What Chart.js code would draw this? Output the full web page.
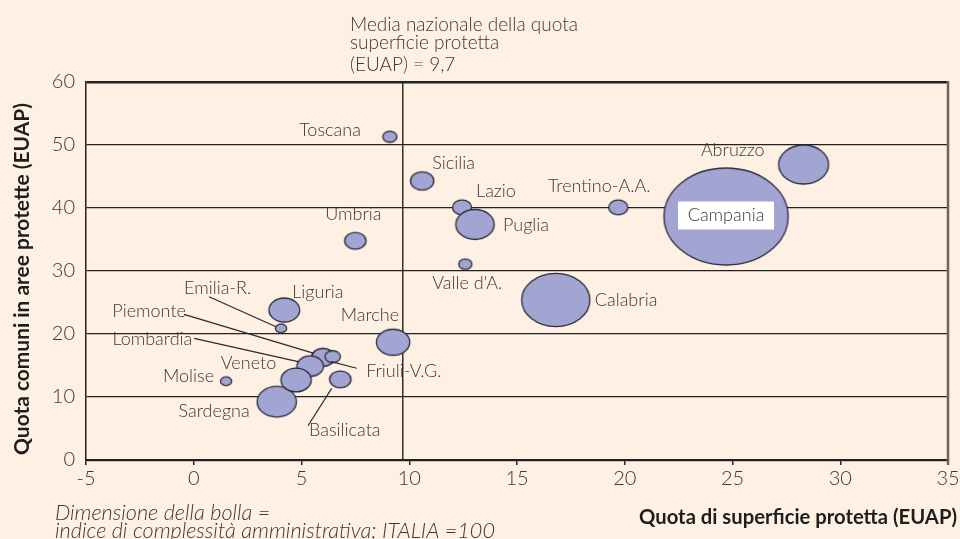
<!DOCTYPE html>
<html><head><meta charset="utf-8">
<script src="https://cdn.jsdelivr.net/npm/chart.js@4.4.0/dist/chart.umd.min.js"></script>
<style>
html,body{margin:0;padding:0;background:#fef1e3;}
#wrap{width:960px;height:539px;position:relative;overflow:hidden}
</style>
</head><body><div id="wrap"><canvas id="c" width="960" height="539"></canvas></div>
<script>
// ---- DATA ----
const regions = ["Toscana","Sicilia","Lazio","Puglia","Valle d'A.","Trentino-A.A.","Abruzzo","Campania","Calabria","Umbria","Liguria","Emilia-R.","Marche","Piemonte","Friuli-V.G.","Lombardia","Sardegna","Veneto","Basilicata","Molise"];
const quotaSuperficie = [9.1,10.6,12.45,13.05,12.6,19.7,28.3,24.7,16.8,7.5,4.2,4.05,9.25,6.0,6.45,5.4,3.85,4.75,6.8,1.5];
const quotaComuni     = [51.3,44.3,40.1,37.4,31.1,40.1,46.9,38.65,25.4,34.8,23.8,20.9,18.7,16.3,16.4,14.9,9.25,12.7,12.8,12.5];
const indiceComplessita = [25,69,46,186,22,46,314,1944,587,58,119,16,140,67,30,89,195,116,58,16];
const mediaNazionale = 9.7;
const xTickValues = [-5,0,5,10,15,20,25,30,35];
const yTickValues = [0,10,20,30,40,50,60];

// ---- STYLE / LAYOUT ----
const FONT = "Lato, 'Open Sans', sans-serif";
const TXT = '#3a3836';
const BG = '#fef1e3';
const FILL = '#a2a4d1';
const EDGE = '#2b2b3b';
const ASPECT = 1.28;
const rOf = v => 11*Math.sqrt(v/100);

// label placement relative to bubble centre: [dx, dy, align, leaderFrom, leaderTo]
const labelLayout = {
  "Toscana":[-29,-7,'right'],
  "Sicilia":[10,-18,'left'],
  "Lazio":[14,-16,'left'],
  "Puglia":[28,1,'left'],
  "Valle d'A.":[2,19,'center'],
  "Trentino-A.A.":[-19,-21,'center'],
  "Abruzzo":[-39,-14,'right'],
  "Campania":[0,-1,'center','box'],
  "Calabria":[39,0,'left'],
  "Umbria":[-2,-27,'center'],
  "Liguria":[8,-18,'left'],
  "Marche":[6,-27,'right'],
  "Emilia-R.":[-97,-40,'left',[-72,-31.6],[-5,-1.6]],
  "Piemonte":[-210.7,-46.3,'left',[-139,-43],[-9,-4]],
  "Lombardia":[-197.7,-26.7,'left',[-116,-27.7],[-11,-4.3]],
  "Veneto":[-75.3,-17,'left'],
  "Molise":[-12,-4.6,'right'],
  "Friuli-V.G.":[33.4,15,'left',[-1.6,5],[24,11.6]],
  "Sardegna":[-27,9,'right'],
  "Basilicata":[-31.3,50.7,'left',[-32.3,46.4],[-8.6,9]]
};

function bubbleImage(r){
  const rx = r*ASPECT, ry = r;
  const c = document.createElement('canvas');
  c.width = Math.ceil(rx*2+4); c.height = Math.ceil(ry*2+4);
  const g = c.getContext('2d');
  g.beginPath(); g.ellipse(c.width/2, c.height/2, rx, ry, 0, 0, Math.PI*2);
  g.fillStyle = FILL; g.fill();
  g.lineWidth = 1.3; g.strokeStyle = EDGE; g.stroke();
  return c;
}

function fitText(ctx, text, style, target){
  ctx.font = `${style} 20px ${FONT}`;
  const w = ctx.measureText(text).width;
  ctx.font = `${style} ${(20*target/w).toFixed(2)}px ${FONT}`;
}

const points = regions.map((n,i)=>({x:quotaSuperficie[i], y:quotaComuni[i], r:rOf(indiceComplessita[i])}));
const images = points.map(p=>bubbleImage(p.r));

const decor = {
  id:'decor',
  beforeDraw(chart){
    const {ctx,width,height} = chart;
    ctx.save(); ctx.fillStyle = BG; ctx.fillRect(0,0,width,height); ctx.restore();
  },
  beforeDatasetsDraw(chart){
    const {ctx, chartArea:a, scales:{x}} = chart;
    ctx.save();
    const px = x.getPixelForValue(mediaNazionale);
    ctx.strokeStyle = '#222'; ctx.lineWidth = 1.4;
    ctx.beginPath(); ctx.moveTo(px, a.top); ctx.lineTo(px, a.bottom); ctx.stroke();
    ctx.strokeStyle = '#6b6560'; ctx.lineWidth = 2.5;
    ctx.beginPath(); ctx.moveTo(a.right, a.top-1); ctx.lineTo(a.right, a.bottom+5); ctx.stroke();
    ctx.restore();
  },
  afterDatasetsDraw(chart){
    const {ctx} = chart;
    const meta = chart.getDatasetMeta(0);
    ctx.save();
    ctx.fillStyle = TXT; ctx.strokeStyle = '#2a2a2a'; ctx.lineWidth = 1.2;
    ctx.font = `300 18px ${FONT}`;
    ctx.textBaseline = 'middle';
    regions.forEach((name,i)=>{
      const el = meta.data[i];
      const L = labelLayout[name];
      const tx = el.x + L[0], ty = el.y + L[1];
      if (Array.isArray(L[3])) {
        ctx.beginPath();
        ctx.moveTo(el.x+L[3][0], el.y+L[3][1]);
        ctx.lineTo(el.x+L[4][0], el.y+L[4][1]);
        ctx.stroke();
      }
      ctx.textAlign = L[2];
      if (L[3]==='box') {
        ctx.fillStyle = '#ffffff';
        ctx.fillRect(tx - 48, ty - 14, 96, 28);
        ctx.fillStyle = TXT;
      }
      ctx.fillText(name, tx, ty);
    });
    // annotation of national mean
    ctx.textAlign = 'left';
    ctx.font = `300 19px ${FONT}`;
    ctx.fillText('Media nazionale della quota', 350, 25);
    ctx.fillText('superficie protetta', 350, 43);
    ctx.fillText('(EUAP) = 9,7', 350, 65);
    // axis titles
    ctx.fillStyle = '#1e1e1e';
    ctx.textAlign = 'right';
    fitText(ctx, 'Quota di superficie protetta (EUAP)', '700', 318);
    ctx.fillText('Quota di superficie protetta (EUAP)', 957, 517);
    ctx.save();
    ctx.translate(22, 279); ctx.rotate(-Math.PI/2);
    ctx.textAlign = 'center';
    fitText(ctx, 'Quota comuni in aree protette (EUAP)', '700', 352);
    ctx.fillText('Quota comuni in aree protette (EUAP)', 0, 0);
    ctx.restore();
    // footnote
    ctx.fillStyle = TXT;
    ctx.textAlign = 'left';
    fitText(ctx, 'indice di complessità amministrativa; ITALIA =100', 'italic 300', 440);
    ctx.fillText('Dimensione della bolla =', 55, 513);
    ctx.fillText('indice di complessità amministrativa; ITALIA =100', 55, 531);
    ctx.restore();
  }
};

new Chart(document.getElementById('c'), {
  type:'bubble',
  data:{ datasets:[{
    label:'Regioni',
    data: points,
    pointStyle: c => images[c.dataIndex],
    backgroundColor: FILL,
    borderColor: EDGE,
    clip: false
  }]},
  options:{
    responsive:false,
    animation:false,
    devicePixelRatio:1,
    layout:{ autoPadding:false, padding:{ top:82, right:12, left:0, bottom:0 } },
    plugins:{ legend:{display:false}, tooltip:{enabled:false} },
    events: [],
    scales:{
      x:{
        type:'linear', min:-5, max:35,
        afterBuildTicks: s => { s.ticks = xTickValues.map(v=>({value:v})); },
        afterFit: s => { s.height = 539-460; s.paddingLeft = 0; s.paddingRight = 0; },
        ticks:{ font:{family:FONT, size:20, weight:'300'}, color:TXT, padding:2, maxRotation:0 },
        grid:{ drawOnChartArea:false, drawTicks:true, tickLength:5, color:'#222', lineWidth:1.5 },
        border:{ color:'#222', width:2.2 }
      },
      y:{
        type:'linear', min:0, max:60,
        afterBuildTicks: s => { s.ticks = yTickValues.map(v=>({value:v})); },
        afterFit: s => { s.width = 86; s.paddingTop = 0; s.paddingBottom = 0; },
        ticks:{ font:{family:FONT, size:20, weight:'300'}, color:TXT, padding:11 },
        grid:{ drawTicks:false, color:'#222', lineWidth: c => c.tick && c.tick.value===60 ? 2.4 : 1.3 },
        border:{ color:'#222', width:1.5 }
      }
    }
  },
  plugins:[decor]
});
</script>
</body></html>
